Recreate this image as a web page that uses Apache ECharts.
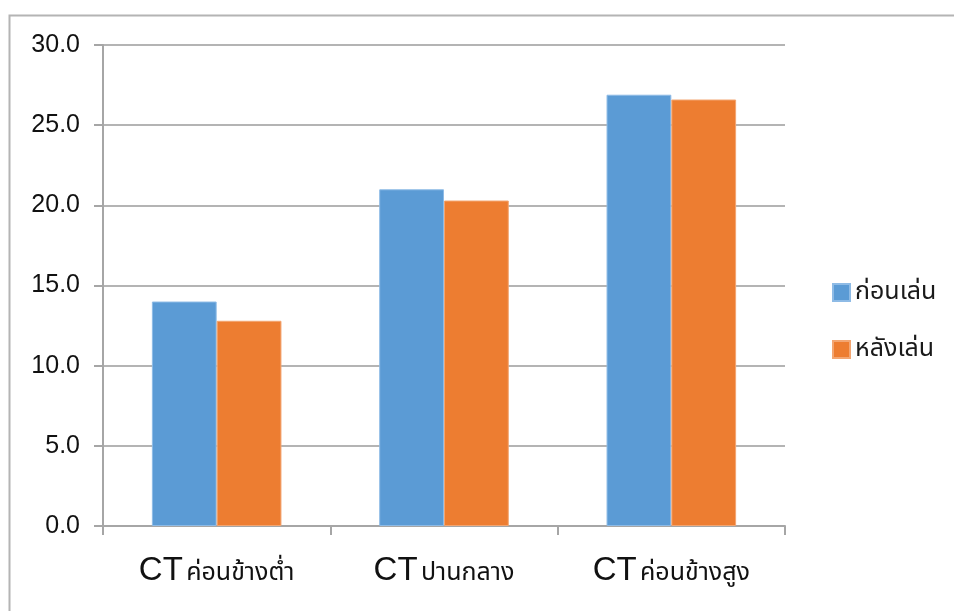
<!DOCTYPE html>
<html>
<head>
<meta charset="utf-8">
<script src="https://cdn.jsdelivr.net/npm/echarts@6/dist/echarts.min.js"></script>
<style>
  html, body { margin: 0; padding: 0; background: #ffffff; }
  #chart { width: 954px; height: 611px; }
</style>
</head>
<body>
<div id="chart"></div>
<script>
// Category labels: "CT" prefix plus the Thai position name
const categoryPrefix = ['CT', 'CT', 'CT'];
const categoryNames = ['ค่อนข้างต่ำ', 'ปานกลาง', 'ค่อนข้างสูง'];
const seriesNames = ['ก่อนเล่น', 'หลังเล่น'];
const beforeValues = [14.0, 21.0, 26.9];
const afterValues = [12.8, 20.3, 26.6];

const categories = categoryNames.map((n, i) => categoryPrefix[i] + ' ' + n);
const FONT = 'Arial, "Liberation Sans", "Noto Sans", "Noto Sans Thai", "Loma", sans-serif';

const chart = echarts.init(document.getElementById('chart'));
chart.setOption({
  backgroundColor: '#ffffff',
  animation: false,
  textStyle: { fontFamily: FONT },
  graphic: [{
    type: 'rect',
    shape: { x: 9.5, y: 15.5, width: 1000, height: 700 },
    style: { fill: 'none', stroke: '#b4b4b4', lineWidth: 2 },
    silent: true
  }],
  grid: { left: 103, right: 169, top: 45, bottom: 85 },
  legend: {
    orient: 'vertical',
    left: 827,
    top: 275,
    itemWidth: 17,
    itemHeight: 17,
    itemGap: 32,
    icon: 'rect',
    textStyle: { fontSize: 25, color: '#1a1a1a', fontFamily: FONT },
    data: seriesNames
  },
  xAxis: {
    type: 'category',
    data: categories,
    axisLine: { lineStyle: { color: '#a6a6a6', width: 2 } },
    axisTick: { show: true, length: 9, lineStyle: { color: '#a6a6a6', width: 2 } },
    axisLabel: {
      margin: 28,
      formatter: function (v) {
        const idx = v.indexOf(' ');
        return '{a|' + v.slice(0, idx) + '} {b|' + v.slice(idx + 1) + '}';
      },
      rich: {
        a: { fontSize: 33, color: '#111111', fontFamily: FONT },
        b: { fontSize: 25, color: '#111111', fontFamily: FONT, padding: [5, 0, 0, 0] }
      }
    }
  },
  yAxis: {
    type: 'value',
    min: 0,
    max: 30,
    interval: 5,
    axisLine: { show: true, lineStyle: { color: '#a6a6a6', width: 2 } },
    axisTick: { show: true, length: 9, lineStyle: { color: '#a6a6a6', width: 2 } },
    splitLine: { lineStyle: { color: '#b4b4b4', width: 2 } },
    axisLabel: {
      margin: 23,
      fontSize: 25,
      color: '#111111',
      fontFamily: FONT,
      formatter: v => v.toFixed(1)
    }
  },
  series: [
    {
      name: seriesNames[0],
      type: 'bar',
      data: beforeValues,
      barGap: '0%',
      barCategoryGap: '43%',
      itemStyle: { color: '#5b9bd5', borderColor: '#8ebbe6', borderWidth: 1 }
    },
    {
      name: seriesNames[1],
      type: 'bar',
      data: afterValues,
      itemStyle: { color: '#ed7d31', borderColor: '#f3a672', borderWidth: 1 }
    }
  ]
});
</script>
</body>
</html>
